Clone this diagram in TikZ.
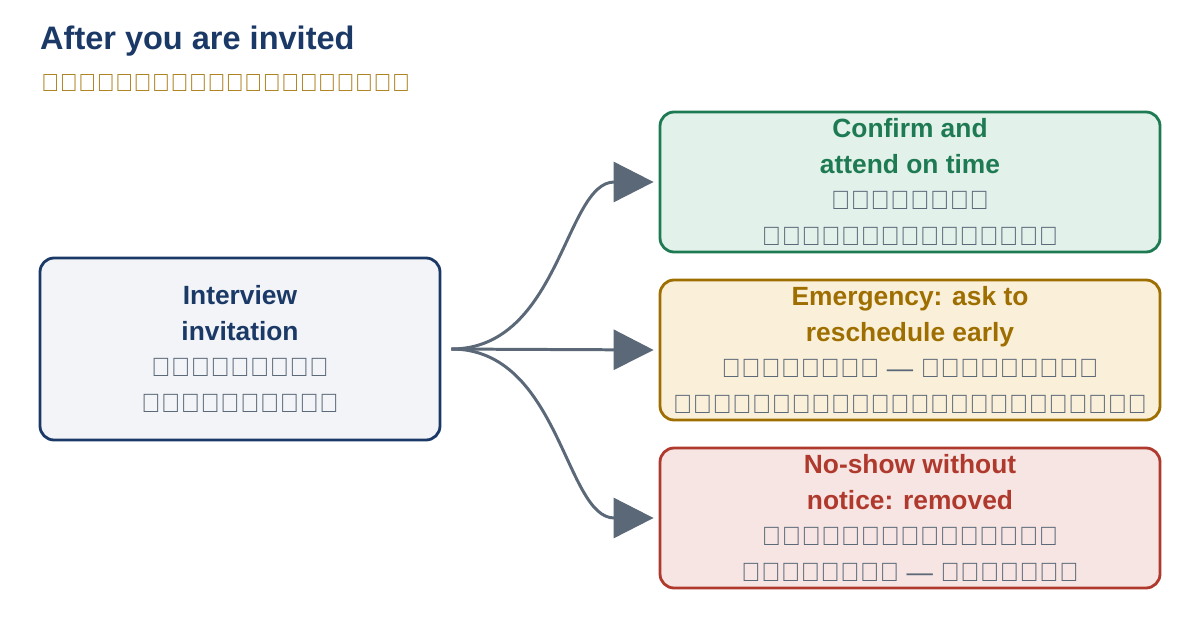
\documentclass[tikz,border=0pt]{standalone}
\usepackage{fontspec}
\setmainfont{Liberation Sans}
\usetikzlibrary{arrows.meta}
\definecolor{navy}{HTML}{1B3966}
\definecolor{gold}{HTML}{A87A12}
\definecolor{slate}{HTML}{5B6878}
\definecolor{okline}{HTML}{1E7A52}
\definecolor{okfill}{HTML}{E2F1EA}
\definecolor{emline}{HTML}{9E6E00}
\definecolor{emfill}{HTML}{FAF0D9}
\definecolor{noline}{HTML}{B0392D}
\definecolor{nofill}{HTML}{F6E5E2}
\definecolor{invfill}{HTML}{F2F4F7}

\begin{document}
\begin{tikzpicture}[
    box/.style={draw, line width=1.6pt, rounded corners=8pt, align=center,
        minimum height=2.8cm, font=\fontsize{15}{20.5}\selectfont},
    link/.style={draw=slate, line width=1.7pt, -{Triangle[length=0.8cm,width=0.8cm]},
        shorten <=0.2cm, shorten >=0.1cm}
]
    \useasboundingbox (0,0) rectangle (24,12.72);

    % Title
    \node[anchor=west, text=navy, font=\fontsize{18.5}{22}\selectfont\bfseries] (title) at (0.68,11.9) {After you are invited};
    \node[anchor=west, text=gold, font=\fontsize{14}{18}\selectfont] (subtitle) at (0.7,11.05) {ဖိတ်ကြားခံရပြီးနောက်};

    % Boxes
    \node[box, draw=navy, fill=invfill, minimum width=8cm, minimum height=3.64cm] (inv) at (4.8,5.74)
        {\textcolor{navy}{\bfseries Interview}\\\textcolor{navy}{\bfseries invitation}\\{\color{slate}အင်တာဗျူး}\\{\color{slate}ဖိတ်ကြားစာ}};
    \node[box, draw=okline, fill=okfill, minimum width=10cm] (ok) at (18.2,9.08)
        {\textcolor{okline}{\bfseries Confirm and}\\\textcolor{okline}{\bfseries attend on time}\\{\color{slate}အတည်ပြု၍}\\{\color{slate}အချိန်မှန်တက်ပါ}};
    \node[box, draw=emline, fill=emfill, minimum width=10cm] (emg) at (18.2,5.72)
        {\textcolor{emline}{\bfseries Emergency: ask to}\\\textcolor{emline}{\bfseries reschedule early}\\{\color{slate}အရေးပေါ် — စောစီးစွာ}\\{\color{slate}အချိန်ပြောင်းရန်တောင်းပါ}};
    \node[box, draw=noline, fill=nofill, minimum width=10cm] (nos) at (18.2,2.36)
        {\textcolor{noline}{\bfseries No-show without}\\\textcolor{noline}{\bfseries notice: removed}\\{\color{slate}အကြောင်းမကြားဘဲ}\\{\color{slate}ပျက်ကွက် — ပယ်ဖျက်}};

    % Links
    \draw[link] (inv.east) .. controls (11.2,5.74) and (11.3,9.08) .. (ok.west);
    \draw[link] (inv.east) -- (emg.west);
    \draw[link] (inv.east) .. controls (11.2,5.74) and (11.3,2.36) .. (nos.west);
\end{tikzpicture}
\end{document}
